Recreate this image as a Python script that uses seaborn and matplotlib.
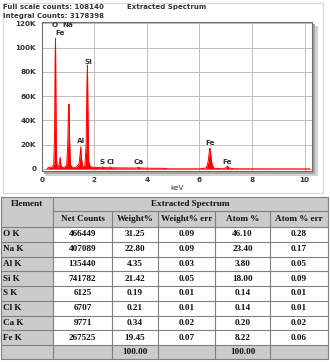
import matplotlib
matplotlib.use("Agg")
import matplotlib.pyplot as plt
import seaborn as sns
from matplotlib.patches import Rectangle
from matplotlib.ticker import FuncFormatter

# spectrum (keV, counts)
energy_kev = [0.20, 0.25, 0.30, 0.40,
              0.46, 0.49, 0.51, 0.525, 0.54, 0.56, 0.60,
              0.66, 0.69, 0.705, 0.72, 0.75, 0.85,
              0.95, 0.99, 1.02, 1.04, 1.06, 1.09, 1.15, 1.30,
              1.42, 1.46, 1.487, 1.51, 1.56, 1.64,
              1.69, 1.72, 1.74, 1.76, 1.79, 1.85, 2.00,
              2.25, 2.31, 2.37, 2.56, 2.62, 2.68, 3.00,
              3.60, 3.69, 3.78, 4.20, 4.70, 4.80, 6.00,
              6.26, 6.33, 6.38, 6.40, 6.42, 6.47, 6.54,
              6.90, 7.00, 7.06, 7.12, 7.30, 8.00, 10.20]
counts = [0, 1200, 1500, 1300,
          4000, 30000, 90000, 107600, 60000, 8000, 1500,
          3000, 7000, 9300, 5000, 1500, 1300,
          3000, 20000, 50000, 53500, 25000, 4000, 1400, 1300,
          4000, 12000, 18400, 9000, 2000, 2000,
          20000, 70000, 85600, 45000, 6000, 1800, 1300,
          1100, 1800, 1100, 1000, 1700, 1000, 900,
          800, 1300, 800, 600, 500, 150, 150,
          800, 6000, 15000, 17000, 14000, 5000, 600,
          200, 900, 2400, 900, 200, 150, 100]

# peak labels (text, keV, counts)
peak_names = ["O", "Na", "Fe", "Si", "Al", "S", "Cl", "Ca", "Fe", "Fe"]
peak_x = [0.51, 0.99, 0.69, 1.76, 1.48, 2.30, 2.62, 3.68, 6.39, 7.07]
peak_y = [118600, 118600, 111800, 88400, 23000, 6000, 6000, 5500, 21200, 6000]

# table
elements = ["O K", "Na K", "Al K", "Si K", "S K", "Cl K", "Ca K", "Fe K"]
net_counts = ["466449", "407089", "135440", "741782", "6125", "6707", "9771", "267525"]
weight_pct = ["31.25", "22.80", "4.35", "21.42", "0.19", "0.21", "0.34", "19.45"]
weight_err = ["0.09", "0.09", "0.03", "0.05", "0.01", "0.01", "0.02", "0.07"]
atom_pct = ["46.10", "23.40", "3.80", "18.00", "0.14", "0.14", "0.20", "8.22"]
atom_err = ["0.28", "0.17", "0.05", "0.09", "0.01", "0.01", "0.02", "0.06"]
col_heads = ["Net Counts", "Weight%", "Weight% err", "Atom %", "Atom % err"]
totals = ["", "100.00", "", "100.00", ""]

sns.set_style("white")
plt.rcParams["font.family"] = ["DejaVu Sans"]
plt.rcParams["font.weight"] = "bold"

W, H = 330, 362
fig = plt.figure(figsize=(W / 100, H / 100), dpi=100)


def fx(px):
    return px / W


def fy(py):
    return 1 - py / H


# panel border and drop shadow of the plot frame
fig.patches.append(Rectangle((fx(2.5), fy(193)), fx(320.5), 190 / H, transform=fig.transFigure,
                             fill=False, ec="#d9d9d9", lw=0.8, zorder=0))
fig.patches.append(Rectangle((fx(45), fy(176)), fx(273), 150 / H, transform=fig.transFigure,
                             fc="#d2d2d2", ec="none", zorder=0))
fig.patches.append(Rectangle((fx(44), fy(174)), fx(271), 150 / H, transform=fig.transFigure,
                             fc="#a5a5a5", ec="none", zorder=0))

ax = fig.add_axes([fx(41.7), fy(171), fx(270), 149.5 / H], zorder=2)
ax.set_facecolor("white")
ax.fill_between(energy_kev, counts, 0, color="#ff0000", lw=0, zorder=3)
sns.lineplot(x=energy_kev, y=counts, ax=ax, color="#ff0000", lw=0.7,
             estimator=None, sort=False, zorder=3)
ax.set_xlim(0, 10.27)
ax.set_ylim(-1650, 121500)
ax.set_xticks([0, 2, 4, 6, 8, 10])
ax.set_yticks([0, 20000, 40000, 60000, 80000, 100000, 120000])
ax.yaxis.set_major_formatter(FuncFormatter(lambda v, p: "0" if v == 0 else f"{int(v / 1000)}K"))
ax.grid(True, color="#bdbdbd", lw=0.7)
ax.set_axisbelow(True)
for s in ax.spines.values():
    s.set_color("#6e6e6e")
    s.set_linewidth(0.8)
ax.tick_params(direction="out", length=3, width=0.6, color="#888888",
               labelsize=5.2, pad=1, labelcolor="#333333")
ax.set_xlabel("keV", fontsize=5.2, labelpad=1.5, color="#333333")

for name, x, y in zip(peak_names, peak_x, peak_y):
    ax.text(x, y, name, fontsize=5.2, ha="center", va="center", color="#333333", zorder=4)

fig.text(fx(3), fy(7.3), "Full scale counts: 108140", fontsize=5.0, va="center", color="#333333")
fig.text(fx(127), fy(7.3), "Extracted Spectrum", fontsize=5.0, va="center", color="#333333")
fig.text(fx(3), fy(15.7), "Integral Counts: 3178398", fontsize=5.0, va="center", color="#333333")

# table drawn in pixel coordinates
tab = fig.add_axes([0, 0, 1, 1], zorder=5)
tab.set_xlim(0, W)
tab.set_ylim(H, 0)
tab.axis("off")
tab.patch.set_alpha(0)

col_x = [0.5, 53, 112, 158, 215, 270, 328]
row_y = [197, 211, 227]
for i in range(8):
    row_y.append(227 + (345 - 227) / 8 * (i + 1))
row_y.append(359.3)

gray = "#cbcbcb"
line_c = "#808080"
tf = dict(family=["Liberation Serif"], fontweight="bold", fontsize=6.6, color="#111111")

# backgrounds
tab.add_patch(Rectangle((col_x[0], row_y[0]), col_x[6] - col_x[0], row_y[2] - row_y[0], fc=gray, ec="none"))
for r in range(2, 10):
    tab.add_patch(Rectangle((col_x[0], row_y[r]), col_x[1] - col_x[0], row_y[r + 1] - row_y[r], fc=gray, ec="none"))
tab.add_patch(Rectangle((col_x[0], row_y[10]), col_x[6] - col_x[0], row_y[11] - row_y[10], fc=gray, ec="none"))

# grid lines
tab.plot([col_x[0], col_x[6]], [row_y[0], row_y[0]], color=line_c, lw=0.8)
tab.plot([col_x[1], col_x[6]], [row_y[1], row_y[1]], color=line_c, lw=0.8)
for r in range(2, 12):
    tab.plot([col_x[0], col_x[6]], [row_y[r], row_y[r]], color=line_c, lw=0.8)
tab.plot([col_x[0], col_x[0]], [row_y[0], row_y[11]], color=line_c, lw=0.8)
tab.plot([col_x[6], col_x[6]], [row_y[0], row_y[11]], color=line_c, lw=0.8)
tab.plot([col_x[1], col_x[1]], [row_y[0], row_y[11]], color=line_c, lw=0.8)
for c in range(2, 6):
    tab.plot([col_x[c], col_x[c]], [row_y[1], row_y[11]], color=line_c, lw=0.8)

tab.text((col_x[0] + col_x[1]) / 2, (row_y[0] + row_y[1]) / 2, "Element", ha="center", va="center", **tf)
tab.text((col_x[1] + col_x[6]) / 2, (row_y[0] + row_y[1]) / 2, "Extracted Spectrum", ha="center", va="center", **tf)
for c, head in enumerate(col_heads):
    tab.text((col_x[c + 1] + col_x[c + 2]) / 2, (row_y[1] + row_y[2]) / 2, head, ha="center", va="center", **tf)

columns = [net_counts, weight_pct, weight_err, atom_pct, atom_err]
for r, el in enumerate(elements):
    yc = (row_y[r + 2] + row_y[r + 3]) / 2
    tab.text(col_x[0] + 2.5, yc, el, ha="left", va="center", **tf)
    for c, vals in enumerate(columns):
        tab.text((col_x[c + 1] + col_x[c + 2]) / 2, yc, vals[r], ha="center", va="center", **tf)
for c, val in enumerate(totals):
    tab.text((col_x[c + 1] + col_x[c + 2]) / 2, (row_y[10] + row_y[11]) / 2, val, ha="center", va="center", **tf)

fig.savefig("out.png", dpi=100)
